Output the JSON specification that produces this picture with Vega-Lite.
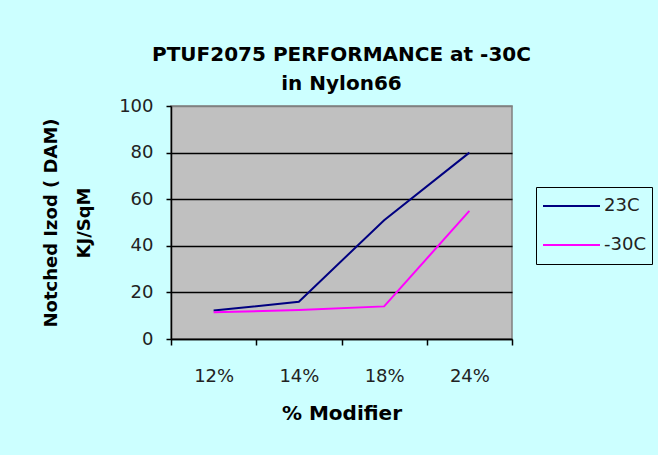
{
  "$schema": "https://vega.github.io/schema/vega-lite/v6.json",
  "width": 341,
  "height": 233,
  "autosize": {"type": "none"},
  "padding": {"left": 171, "top": 106, "right": 146, "bottom": 116},
  "background": "#ccffff",
  "title": {
    "text": ["PTUF2075 PERFORMANCE at -30C", "in Nylon66"],
    "font": "DejaVu Sans",
    "fontSize": 20,
    "fontWeight": "bold",
    "lineHeight": 29,
    "color": "black",
    "anchor": "middle",
    "offset": 3
  },
  "data": {
    "values": [
      {"modifier": "12%", "series": "23C", "izod": 12.2},
      {"modifier": "14%", "series": "23C", "izod": 16},
      {"modifier": "18%", "series": "23C", "izod": 51},
      {"modifier": "24%", "series": "23C", "izod": 80},
      {"modifier": "12%", "series": "-30C", "izod": 11.5},
      {"modifier": "14%", "series": "-30C", "izod": 12.4},
      {"modifier": "18%", "series": "-30C", "izod": 14},
      {"modifier": "24%", "series": "-30C", "izod": 55}
    ]
  },
  "mark": {"type": "line", "strokeWidth": 2},
  "encoding": {
    "x": {
      "field": "modifier",
      "type": "ordinal",
      "sort": ["12%", "14%", "18%", "24%"],
      "bandPosition": 0.5,
      "scale": {"type": "band", "paddingInner": 0, "paddingOuter": 0},
      "axis": {
        "title": "% Modifier",
        "titleFont": "DejaVu Sans",
        "titleFontSize": 20,
        "titleFontWeight": "bold",
        "titleColor": "black",
        "titlePadding": 18,
        "labelFont": "DejaVu Sans",
        "labelFontSize": 18,
        "labelColor": "#222222",
        "labelAngle": 0,
        "labelPadding": 22,
        "tickBand": "extent",
        "tickSize": 6,
        "tickWidth": 1.5,
        "tickColor": "black",
        "domainColor": "black",
        "domainWidth": 1.5,
        "grid": false
      }
    },
    "y": {
      "field": "izod",
      "type": "quantitative",
      "scale": {"domain": [0, 100]},
      "axis": {
        "values": [0, 20, 40, 60, 80, 100],
        "title": ["Notched Izod ( DAM)", "KJ/SqM"],
        "titleFont": "DejaVu Sans",
        "titleFontSize": 18,
        "titleFontWeight": "bold",
        "titleColor": "black",
        "titleLineHeight": 33,
        "titlePadding": 25,
        "labelFont": "DejaVu Sans",
        "labelFontSize": 18,
        "labelColor": "#222222",
        "labelPadding": 13,
        "tickSize": 5,
        "tickWidth": 1.5,
        "tickColor": "black",
        "domainColor": "black",
        "domainWidth": 1.5,
        "grid": true,
        "gridWidth": 1.5,
        "gridColor": {"condition": {"test": "datum.value === 100", "value": "#808080"}, "value": "black"}
      }
    },
    "color": {
      "field": "series",
      "type": "nominal",
      "scale": {"domain": ["23C", "-30C"], "range": ["#000080", "#ff00ff"]},
      "legend": {
        "title": null,
        "orient": "none",
        "legendX": 365,
        "legendY": 81,
        "strokeColor": "black",
        "fillColor": "#ccffff",
        "padding": 6,
        "symbolType": "stroke",
        "symbolSize": 3249,
        "symbolStrokeWidth": 2,
        "labelFont": "DejaVu Sans",
        "labelFontSize": 18,
        "labelColor": "#222222",
        "labelOffset": 3,
        "clipHeight": 26,
        "rowPadding": 13
      }
    }
  },
  "config": {
    "view": {"fill": "#c0c0c0", "stroke": "#808080", "strokeWidth": 1.5}
  }
}
